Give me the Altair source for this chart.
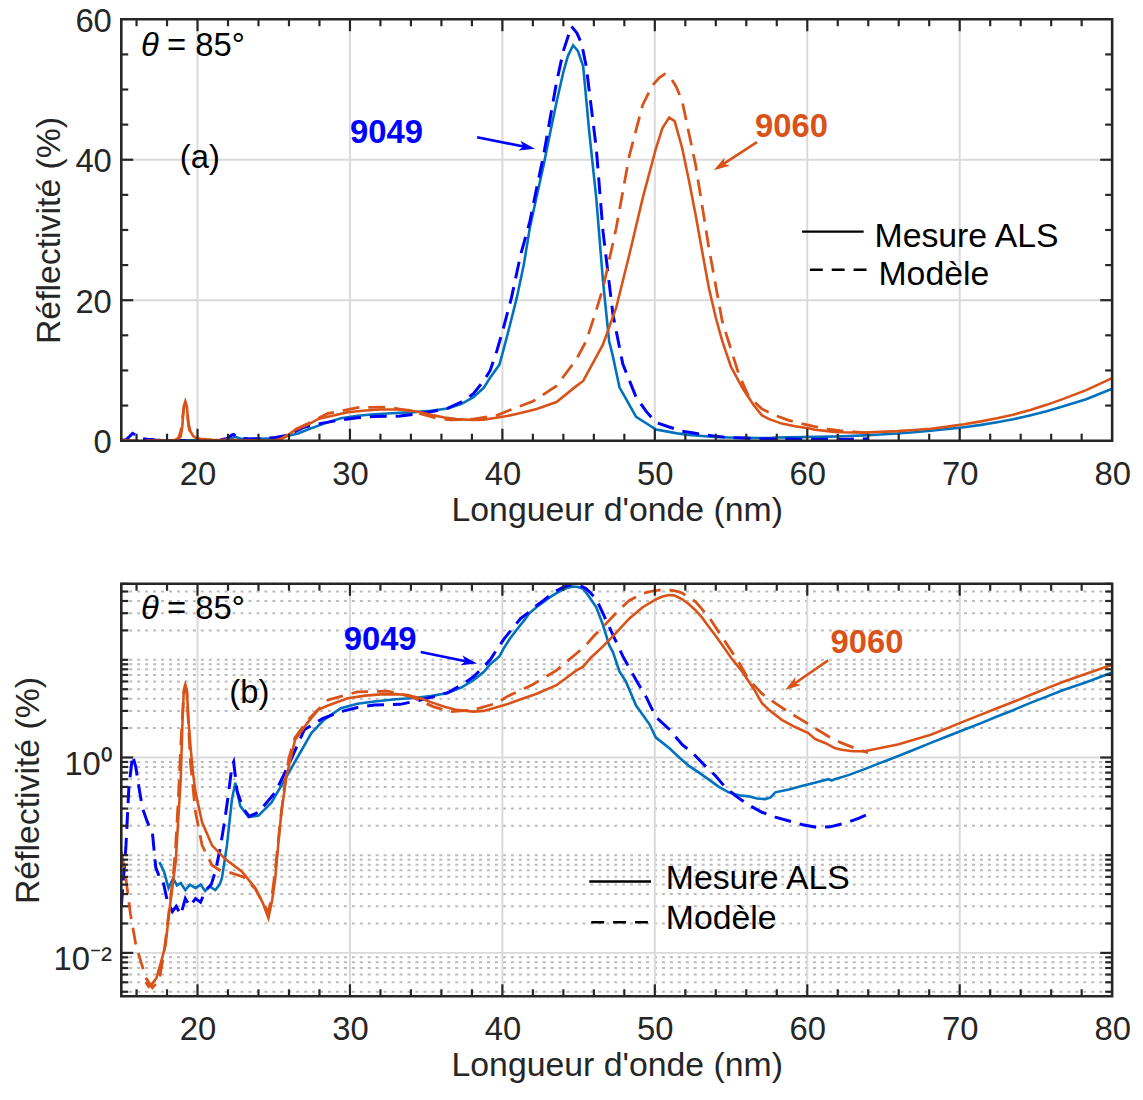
import math
import altair as alt
import pandas as pd

# ---------------- data (wavelength nm, reflectivity %) ----------------
meas_9049 = [(17.5, 0.085), (17.8, 0.068), (18.1, 0.046), (18.4, 0.058), (18.65, 0.049), (18.9, 0.052),
             (19.2, 0.044), (19.5, 0.05), (19.87, 0.046), (20.2, 0.05), (20.5, 0.043), (20.8, 0.048),
             (21.17, 0.044), (21.45, 0.05), (21.6, 0.058), (21.93, 0.126), (22.26, 0.375), (22.48, 0.55),
             (22.8, 0.32), (23.35, 0.245), (24.0, 0.254), (24.86, 0.347), (25.74, 0.6), (26.6, 1.03),
             (27.47, 1.78), (28.3, 2.43), (29.4, 3.2), (30.5, 3.55), (31.6, 3.75), (33.0, 3.95), (34.2, 4.07),
             (35.3, 4.25), (36.4, 4.57), (37.3, 5.2), (38.1, 6.2), (38.77, 7.5), (39.2, 9.0), (39.8, 10.8),
             (40.08, 13.0), (40.5, 16.5), (40.95, 20.4), (41.4, 25.0), (41.8, 30.3), (42.25, 34.8),
             (42.7, 39.2), (43.1, 43.5), (43.55, 48.2), (44.0, 52.5), (44.3, 54.8), (44.64, 56.3),
             (44.95, 55.5), (45.3, 53.3), (45.7, 43.9), (46.16, 34.5), (46.6, 22.7), (47.0, 14.2),
             (47.25, 12.0), (47.68, 7.6), (48.1, 6.0), (48.77, 3.4), (49.64, 2.2), (50.07, 1.6),
             (50.94, 1.25), (51.6, 1.0), (52.24, 0.82), (52.9, 0.7), (53.5, 0.6), (54.2, 0.5), (54.85, 0.44),
             (55.5, 0.41), (56.15, 0.40), (56.7, 0.38), (57.24, 0.375), (57.6, 0.39), (57.9, 0.44),
             (58.8, 0.47), (59.63, 0.51), (60.5, 0.55), (61.37, 0.6), (61.6, 0.58), (61.8, 0.6), (62.7, 0.66),
             (63.76, 0.76), (64.8, 0.88), (65.93, 1.03), (67.0, 1.2), (68.1, 1.41), (69.2, 1.65), (70.28, 1.92),
             (71.4, 2.25), (72.45, 2.63), (73.5, 3.05), (74.6, 3.6), (75.7, 4.2), (76.8, 4.9), (78.3, 5.9),
             (80.0, 7.4)]

model_9049 = [(15.0, 0.03), (15.3, 0.12), (15.5, 0.5), (15.74, 1.05), (15.95, 0.8), (16.2, 0.45), (16.4, 0.3),
              (16.7, 0.22), (17.04, 0.17), (17.26, 0.075), (17.5, 0.06), (17.7, 0.058), (18.0, 0.035),
              (18.35, 0.0265), (18.6, 0.03), (18.9, 0.0245), (19.2, 0.036), (19.5, 0.03), (19.87, 0.036),
              (20.2, 0.033), (20.5, 0.043), (20.9, 0.05), (21.17, 0.068), (21.5, 0.12), (21.8, 0.235),
              (22.05, 0.45), (22.26, 0.82), (22.37, 0.9), (22.6, 0.45), (23.0, 0.3), (23.4, 0.25), (24.0, 0.275),
              (25.1, 0.44), (25.95, 0.82), (27.0, 1.92), (28.2, 2.5), (29.4, 2.95), (30.5, 3.25), (31.6, 3.45),
              (33.3, 3.5), (34.64, 3.88), (35.5, 4.2), (36.4, 4.6), (37.3, 5.5), (38.1, 6.7), (38.77, 8.5),
              (39.2, 10.0), (39.64, 12.8), (40.1, 16.3), (40.6, 20.4), (41.2, 26.5), (41.8, 31.2), (42.25, 36.0),
              (42.7, 40.6), (43.1, 45.5), (43.55, 51.0), (44.0, 55.5), (44.53, 59.0), (44.9, 58.0), (45.2, 56.5),
              (45.5, 53.3), (45.8, 48.0), (46.16, 41.6), (46.6, 29.8), (47.25, 18.0), (47.9, 10.9), (48.77, 6.2),
              (49.42, 4.2), (50.07, 2.6), (50.94, 1.95), (51.8, 1.35), (52.46, 1.12), (53.2, 0.85), (53.98, 0.65),
              (54.6, 0.5), (55.3, 0.405), (56.1, 0.33), (57.03, 0.275), (57.9, 0.245), (58.76, 0.225),
              (59.7, 0.205), (60.6, 0.193), (61.5, 0.195), (62.67, 0.217), (63.4, 0.24), (63.98, 0.263)]

meas_9060 = [(16.6, 0.005), (16.8, 0.0045), (17.0, 0.0048), (17.3, 0.0055), (17.6, 0.008), (17.9, 0.012),
             (18.2, 0.031), (18.57, 0.086), (18.75, 0.25), (18.9, 0.6), (19.0, 2.0), (19.1, 4.9), (19.2, 5.6),
             (19.3, 4.9), (19.4, 2.5), (19.54, 1.3), (19.7, 0.7), (19.87, 0.44), (20.3, 0.217), (20.95, 0.126),
             (21.8, 0.092), (22.9, 0.068), (23.8, 0.046), (24.3, 0.032), (24.65, 0.0227), (24.9, 0.035),
             (25.1, 0.058), (25.3, 0.13), (25.5, 0.275), (25.84, 0.65), (26.4, 1.52), (27.25, 2.3), (27.9, 3.07),
             (28.56, 3.4), (29.86, 4.04), (31.0, 4.3), (32.0, 4.43), (33.0, 4.45), (33.8, 4.36), (34.7, 4.0),
             (35.5, 3.6), (36.2, 3.3), (37.0, 3.07), (38.1, 2.95), (38.77, 3.0), (39.4, 3.2), (40.3, 3.5),
             (41.4, 4.04), (42.25, 4.5), (43.55, 5.5), (44.86, 7.8), (45.3, 8.5), (45.8, 10.5), (46.6, 13.7),
             (47.46, 18.9), (48.33, 26.5), (49.2, 34.5), (50.07, 41.6), (50.5, 44.5), (50.94, 46.0),
             (51.3, 45.5), (51.8, 41.6), (52.24, 37.0), (52.68, 32.1), (53.1, 27.0), (53.55, 21.7), (54.0, 17.5),
             (54.42, 14.2), (55.0, 10.5), (55.72, 7.6), (56.5, 5.0), (57.03, 3.6), (57.46, 3.1), (58.33, 2.43),
             (59.2, 2.05), (60.07, 1.78), (60.5, 1.55), (61.2, 1.4), (61.8, 1.25), (62.24, 1.2), (63.0, 1.16),
             (63.76, 1.16), (64.8, 1.25), (65.93, 1.36), (67.0, 1.52), (68.1, 1.71), (69.2, 2.0), (70.28, 2.34),
             (71.4, 2.75), (72.45, 3.19), (73.5, 3.7), (74.63, 4.36), (75.7, 5.1), (76.8, 5.95), (78.3, 7.2),
             (80.0, 8.9)]

model_9060 = [(15.0, 0.11), (15.3, 0.058), (15.6, 0.025), (15.96, 0.012), (16.3, 0.008), (16.6, 0.0056),
              (17.04, 0.0044), (17.48, 0.0052), (17.8, 0.01), (18.13, 0.0265), (18.4, 0.06), (18.57, 0.126),
              (18.75, 0.4), (18.9, 1.3), (19.1, 4.6), (19.2, 5.2), (19.3, 4.6), (19.42, 2.0), (19.54, 0.88),
              (19.87, 0.275), (20.3, 0.126), (20.95, 0.079), (21.6, 0.068), (22.2, 0.066), (23.0, 0.06),
              (23.8, 0.045), (24.4, 0.03), (24.65, 0.026), (24.9, 0.04), (25.1, 0.07), (25.4, 0.2), (25.7, 0.5),
              (26.0, 1.0), (26.4, 1.6), (27.25, 2.43), (28.56, 3.88), (30.5, 4.7), (32.47, 4.79), (34.0, 4.2),
              (35.5, 3.3), (36.6, 2.95), (38.1, 3.07), (39.64, 3.6), (40.3, 4.2), (42.0, 5.6), (43.55, 7.8),
              (44.86, 11.6), (45.5, 14.2), (46.0, 17.5), (46.6, 21.7), (47.46, 30.2), (48.33, 40.6), (49.2, 47.8),
              (49.85, 50.6), (50.3, 51.7), (50.65, 52.2), (51.0, 51.8), (51.4, 50.4), (51.8, 48.3), (52.68, 39.2),
              (53.55, 27.4), (54.42, 17.0), (55.5, 9.5), (56.15, 6.3), (57.03, 4.5), (57.9, 3.6), (58.8, 2.9),
              (59.63, 2.43), (60.5, 2.0), (61.37, 1.65), (62.24, 1.41), (63.1, 1.25), (63.98, 1.12)]

x_labels = [20, 30, 40, 50, 60, 70, 80]
x_major_grid = [20, 30, 40, 50, 60, 70]
x_minor_ticks = [v for v in range(16, 80, 2) if v % 10 != 0]
y1_labels = [0, 20, 40, 60]
y1_major = [20, 40]
y1_minor = [5, 10, 15, 25, 30, 35, 45, 50, 55]
y2_labels = [0.01, 1]
y2_minor = [k * 10.0 ** e for e in range(-3, 2) for k in range(1, 10)
            if 0.0036 <= k * 10.0 ** e <= 60 and not (k == 1 and e in (-2, 0))]

# annotations (data units)
ann_top = [("9049", 32.4, 43.8, "#0000FF"), ("9060", 58.97, 44.6, "#D95319")]
ann_bot = [("9049", 31.98, 16.1, "#0000FF"), ("9060", 63.92, 14.9, "#D95319")]
label_top = ("(a)", 20.15, 40.3)
label_bot = ("(b)", 23.4, 4.57)
theta_top = (16.3, 18.0, 56.2)
theta_bot = (16.3, 18.0, 33.3)
arrows_top = [(38.34, 43.2, 42.14, 41.56, "#0000FF"), (56.7, 42.5, 53.87, 38.5, "#D95319")]
arrows_bot = [(34.64, 12.0, 38.34, 9.15, "#0000FF"), (61.37, 9.88, 58.55, 4.9, "#D95319")]
legend_top = [(59.66, 63.70, 29.76, 64.41, 29.0, "Mesure ALS", False),
              (60.17, 64.28, 24.34, 64.67, 23.6, "Modèle", True)]
legend_bot = [(45.7, 49.75, 0.0538, 50.72, 0.0564, "Mesure ALS", False),
              (45.83, 49.88, 0.0206, 50.72, 0.0221, "Modèle", True)]

# ---------------- style ----------------
FONT = "Liberation Sans"
DARK = "#262626"
TEAL = "#0072BD"
BLUE = "#0000FF"
ORANGE = "#D95319"
W, H1, H2 = 997, 424, 415
XDOM = [15, 80]
Y1DOM = [0, 60]
Y2DOM = [0.0036, 60]
DASH = [17, 9]
HEAD = 16


def to_df(pairs):
    return pd.DataFrame({"x": [p[0] for p in pairs], "y": [p[1] for p in pairs],
                         "i": list(range(len(pairs)))})


def panel(log):
    H = H2 if log else H1
    xsc = alt.Scale(domain=XDOM, nice=False, zero=False)
    if log:
        ysc = alt.Scale(type="log", domain=Y2DOM, nice=False)
    else:
        ysc = alt.Scale(domain=Y1DOM, nice=False, zero=False)

    xaxis = alt.Axis(values=x_labels, grid=False, ticks=False, domain=False, labelFlush=False,
                     labelFont=FONT, labelFontSize=33, labelColor=DARK, labelPadding=18,
                     title="Longueur d'onde (nm)", titleFont=FONT, titleFontSize=34,
                     titleFontWeight="normal", titleColor=DARK, titlePadding=2)
    if log:
        yaxis = alt.Axis(values=y2_labels, grid=False, ticks=False, domain=False,
                         labelExpr="datum.value < 0.1 ? '10⁻²' : '10⁰'", labelOffset=7,
                         labelFont=FONT, labelFontSize=33, labelColor=DARK, labelPadding=10,
                         title="Réflectivité (%)", titleFont=FONT, titleFontSize=34,
                         titleFontWeight="normal", titleColor=DARK, titlePadding=8)
    else:
        yaxis = alt.Axis(values=y1_labels, grid=False, ticks=False, domain=False, labelOffset=2,
                         labelFont=FONT, labelFontSize=33, labelColor=DARK, labelPadding=10,
                         title="Réflectivité (%)", titleFont=FONT, titleFontSize=34,
                         titleFontWeight="normal", titleColor=DARK, titlePadding=8)

    def X(f="x"):
        return alt.X(f"{f}:Q", scale=xsc, axis=xaxis)

    def Y(f="y"):
        return alt.Y(f"{f}:Q", scale=ysc, axis=yaxis)

    def to_px(x, y):
        px = (x - XDOM[0]) / (XDOM[1] - XDOM[0]) * W
        if log:
            lo, hi = math.log10(Y2DOM[0]), math.log10(Y2DOM[1])
            py = H - (math.log10(y) - lo) / (hi - lo) * H
        else:
            py = H - (y - Y1DOM[0]) / (Y1DOM[1] - Y1DOM[0]) * H
        return px, py

    def from_px(px, py):
        x = XDOM[0] + px / W * (XDOM[1] - XDOM[0])
        if log:
            lo, hi = math.log10(Y2DOM[0]), math.log10(Y2DOM[1])
            y = 10 ** (lo + (H - py) / H * (hi - lo))
        else:
            y = Y1DOM[0] + (H - py) / H * (Y1DOM[1] - Y1DOM[0])
        return x, y

    layers = []
    one = pd.DataFrame({"a": [0]})

    series = [(meas_9049, TEAL, None, 2.6), (model_9049, BLUE, DASH, 3.0),
              (meas_9060, ORANGE, None, 2.6), (model_9060, ORANGE, DASH, 2.8)]
    curves = []
    for pairs, col, dash, sw in series:
        kw = dict(color=col, strokeWidth=sw, clip=True)
        if dash:
            kw["strokeDash"] = dash
        curves.append(alt.Chart(to_df(pairs)).mark_line(**kw).encode(x=X(), y=Y(), order="i:Q"))

    # minor dotted grid (log panel)
    if log:
        layers.append(alt.Chart(pd.DataFrame({"y": y2_minor})).mark_rule(
            color="#bcbcbc", strokeWidth=2, strokeDash=[3, 5]).encode(
            y=Y(), x=alt.value(0), x2=alt.value(W)))
    # major grid
    layers.append(alt.Chart(pd.DataFrame({"x": x_major_grid})).mark_rule(
        color="#dadada", strokeWidth=2).encode(x=X(), y=alt.value(0), y2=alt.value(H)))
    layers.append(alt.Chart(pd.DataFrame({"y": y2_labels if log else y1_major})).mark_rule(
        color="#dadada", strokeWidth=2).encode(y=Y(), x=alt.value(0), x2=alt.value(W)))

    layers += curves

    # inward ticks (bottom/top, left/right)
    def xticks(vals, ln):
        d = pd.DataFrame({"x": vals})
        return [alt.Chart(d).mark_rule(color=DARK, strokeWidth=2.2).encode(
                    x=X(), y=alt.value(H), y2=alt.value(H - ln)),
                alt.Chart(d).mark_rule(color=DARK, strokeWidth=2.2).encode(
                    x=X(), y=alt.value(0), y2=alt.value(ln))]

    def yticks(vals, ln):
        d = pd.DataFrame({"y": vals})
        return [alt.Chart(d).mark_rule(color=DARK, strokeWidth=2.2).encode(
                    y=Y(), x=alt.value(0), x2=alt.value(ln)),
                alt.Chart(d).mark_rule(color=DARK, strokeWidth=2.2).encode(
                    y=Y(), x=alt.value(W), x2=alt.value(W - ln))]

    layers += xticks(x_major_grid, 12) + xticks(x_minor_ticks, 7)
    if log:
        layers += yticks(y2_labels, 12) + yticks(y2_minor, 7)
    else:
        layers += yticks(y1_major, 12) + yticks(y1_minor, 7)

    # annotations
    anns = ann_bot if log else ann_top
    for txt, x, y, col in anns:
        layers.append(alt.Chart(pd.DataFrame({"x": [x], "y": [y], "t": [txt]})).mark_text(
            font=FONT, fontSize=33, fontWeight="bold", color=col, align="center", baseline="middle"
        ).encode(x=X(), y=Y(), text="t:N"))
    lt, lx, ly = label_bot if log else label_top
    layers.append(alt.Chart(pd.DataFrame({"x": [lx], "y": [ly], "t": [lt]})).mark_text(
        font=FONT, fontSize=33, color="black", align="center", baseline="middle"
    ).encode(x=X(), y=Y(), text="t:N"))
    tx1, tx2, ty = theta_bot if log else theta_top
    layers.append(alt.Chart(pd.DataFrame({"x": [tx1], "y": [ty], "t": ["θ"]})).mark_text(
        font=FONT, fontSize=33, fontStyle="italic", color="black", align="left", baseline="middle"
    ).encode(x=X(), y=Y(), text="t:N"))
    layers.append(alt.Chart(pd.DataFrame({"x": [tx2], "y": [ty], "t": ["= 85°"]})).mark_text(
        font=FONT, fontSize=33, color="black", align="left", baseline="middle"
    ).encode(x=X(), y=Y(), text="t:N"))

    # arrows
    for x0, y0, x1, y1, col in (arrows_bot if log else arrows_top):
        p0 = to_px(x0, y0)
        p1 = to_px(x1, y1)
        dx, dy = p1[0] - p0[0], p1[1] - p0[1]
        L = math.hypot(dx, dy)
        ux, uy = dx / L, dy / L
        cx, cy = from_px(p1[0] - ux * HEAD / 2, p1[1] - uy * HEAD / 2)
        ang = math.degrees(math.atan2(uy, ux)) % 360
        layers.append(alt.Chart(pd.DataFrame({"x": [x0], "y": [y0], "x2": [cx], "y2": [cy]})).mark_rule(
            color=col, strokeWidth=2.6).encode(x=X(), y=Y(), x2="x2:Q", y2="y2:Q"))
        layers.append(alt.Chart(pd.DataFrame({"x": [cx], "y": [cy], "a": [ang]})).mark_point(
            shape="M1,0L-1,-0.62L-0.5,0L-1,0.62Z", filled=True, size=HEAD * HEAD, color=col, opacity=1
        ).encode(x=X(), y=Y(), angle=alt.Angle("a:Q", scale=None)))

    # legend
    for xa, xb, yl, xt, yt, txt, dashed in (legend_bot if log else legend_top):
        kw = dict(color="black", strokeWidth=2.4)
        if dashed:
            kw["strokeDash"] = [13, 9]
        layers.append(alt.Chart(pd.DataFrame({"x": [xa], "x2": [xb], "y": [yl]})).mark_rule(**kw).encode(
            x=X(), x2="x2:Q", y=Y()))
        layers.append(alt.Chart(pd.DataFrame({"x": [xt], "y": [yt], "t": [txt]})).mark_text(
            font=FONT, fontSize=34, color="black", align="left", baseline="middle"
        ).encode(x=X(), y=Y(), text="t:N"))

    # frame
    layers.append(alt.Chart(one).mark_rect(fillOpacity=0, stroke=DARK, strokeWidth=2.6).encode(
        x=alt.value(0), x2=alt.value(W), y=alt.value(0), y2=alt.value(H)))

    return alt.layer(*layers).properties(width=W, height=H)


chart = alt.vconcat(panel(False), panel(True), spacing=55).configure_view(stroke=None).properties(
    padding={"left": 3, "top": -6, "right": 4, "bottom": 4}, background="white")

chart.save("out.html", embed_options={"renderer": "svg", "actions": False})
